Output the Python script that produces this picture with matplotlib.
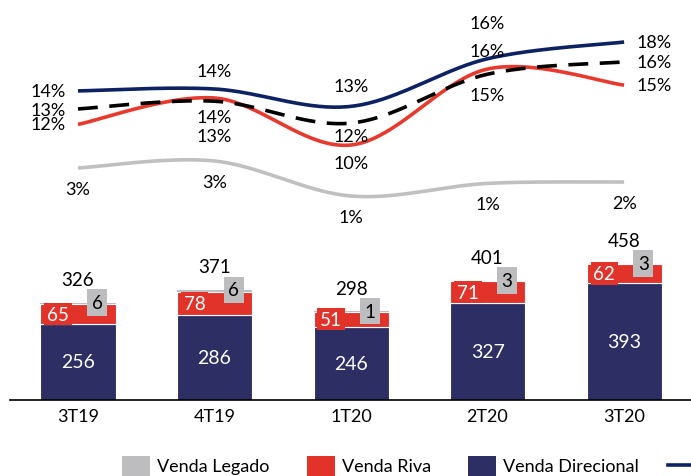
import matplotlib
matplotlib.use("Agg")
import matplotlib.pyplot as plt
from matplotlib.patches import Rectangle
from matplotlib.lines import Line2D
import numpy as np

plt.rcParams['font.family'] = ['Lato', 'DejaVu Sans']

# dados
periodos = ['3T19', '4T19', '1T20', '2T20', '3T20']
direcional = [256, 286, 246, 327, 393]
riva = [65, 78, 51, 71, 62]
legado = [6, 6, 1, 3, 3]
totais = [326, 371, 298, 401, 458]

marg_direcional = [14.2, 14.35, 13.0, 16.7, 18.0]
marg_consolidada = [12.8, 13.4, 11.7, 15.5, 16.45]
marg_riva = [11.6, 13.65, 10.0, 15.9, 14.65]
marg_legado = [2.8, 3.3, 0.8, 1.7, 1.8]

lab_direcional = ['14%', '14%', '13%', '16%', '18%']
lab_consolidada = ['13%', '13%', '12%', '16%', '16%']
lab_riva = ['12%', '14%', '10%', '15%', '15%']
lab_legado = ['3%', '3%', '1%', '1%', '2%']

c_navy_bar = '#2d2f64'
c_red = '#e2332a'
c_gray = '#bdbdbf'
c_navy_line = '#0c2262'
c_gray_line = '#c0c0c0'

W, H = 691, 477
fig = plt.figure(figsize=(W / 100, H / 100), dpi=100)

def fx(px):
    return px / W

def fy(py):
    return 1 - py / H

ax = fig.add_axes([fx(10), fy(401), fx(681), 401 / H])
x = np.arange(len(periodos))
bw = 0.55

ax.bar(x, direcional, bw, color=c_navy_bar, edgecolor='white', linewidth=0.8, zorder=2)
ax.bar(x, riva, bw, bottom=direcional, color=c_red, edgecolor='white', linewidth=0.8, zorder=2)
base_leg = np.array(direcional) + np.array(riva)
ax.bar(x, legado, bw, bottom=base_leg, color=c_gray, edgecolor='none', zorder=2)

ax.set_xlim(-0.498, 4.49)
ax.set_ylim(0, 1346)
for s in ['top', 'right', 'left']:
    ax.spines[s].set_visible(False)
ax.spines['bottom'].set_linewidth(1.2)
ax.set_yticks([])
ax.set_xticks(x)
ax.set_xticklabels(periodos, fontsize=13)
ax.tick_params(axis='x', length=0, pad=6)

for i in range(len(x)):
    ax.text(x[i], direcional[i] / 2, str(direcional[i]), color='white',
            fontsize=14, ha='center', va='center', zorder=4)
    ym = direcional[i] + riva[i] / 2
    ax.text(x[i] - 0.145, ym, str(riva[i]), color='white', fontsize=13.5,
            ha='center', va='center', zorder=4,
            bbox=dict(boxstyle='square,pad=0.15', fc=c_red, ec='none'))
    top = direcional[i] + riva[i] + legado[i]
    ax.text(x[i] + 0.14, top, str(legado[i]), color='black', fontsize=13.5,
            ha='center', va='center', zorder=4,
            bbox=dict(boxstyle='square,pad=0.25', fc=c_gray, ec='none'))
    ax.annotate(str(totais[i]), (x[i], top), xytext=(0, 23), textcoords='offset pixels',
                ha='center', va='center', fontsize=13.5)

def suave(xs, ys, n=40):
    # curva suavizada tipo Excel (bezier com tangentes de Catmull-Rom)
    xs = np.asarray(xs, float)
    ys = np.asarray(ys, float)
    px, py = [], []
    m = len(xs)
    for i in range(m - 1):
        i0 = max(i - 1, 0)
        i3 = min(i + 2, m - 1)
        p0 = np.array([xs[i], ys[i]])
        p3 = np.array([xs[i + 1], ys[i + 1]])
        p1 = p0 + (np.array([xs[i + 1], ys[i + 1]]) - np.array([xs[i0], ys[i0]])) / 6
        p2 = p3 - (np.array([xs[i3], ys[i3]]) - np.array([xs[i], ys[i]])) / 6
        t = np.linspace(0, 1, n)[:, None]
        b = (1 - t) ** 3 * p0 + 3 * (1 - t) ** 2 * t * p1 + 3 * (1 - t) * t ** 2 * p2 + t ** 3 * p3
        px.extend(b[:, 0])
        py.extend(b[:, 1])
    return px, py

ax2 = ax.twinx()
ax2.set_ylim(-9.81, 21.34)
ax2.axis('off')
ax3 = ax.twinx()
ax3.set_ylim(-13.77, 14.87)
ax3.axis('off')

sx, sy = suave(x, marg_legado)
ax3.plot(sx, sy, color=c_gray_line, lw=2.6, solid_capstyle='butt')
sx, sy = suave(x, marg_riva)
ax2.plot(sx, sy, color='#e8392e', lw=2.6, solid_capstyle='butt')
sx, sy = suave(x, marg_consolidada)
ax2.plot(sx, sy, color='black', lw=2.6, dashes=(5.5, 3.2))
sx, sy = suave(x, marg_direcional)
ax2.plot(sx, sy, color=c_navy_line, lw=2.6, solid_capstyle='butt')

fs = 13
# rotulos das margens (deslocamentos em pixels)
off_dir = [(-12, 0, 'right'), (0, 18, 'center'), (0, 20, 'center'), (0, 36, 'center'), (12, 0, 'left')]
off_con = [(-12, -1, 'right'), (0, -35, 'center'), (0, -13, 'center'), (0, 23, 'center'), (12, 0, 'left')]
off_riv = [(-12, 0, 'right'), (0, -19, 'center'), (0, -18, 'center'), (0, -26, 'center'), (12, 0, 'left')]
for i in range(len(x)):
    for vals, labs, offs, a in [(marg_direcional, lab_direcional, off_dir, ax2),
                                (marg_consolidada, lab_consolidada, off_con, ax2),
                                (marg_riva, lab_riva, off_riv, ax2)]:
        dx, dy, ha = offs[i]
        a.annotate(labs[i], (x[i], vals[i]), xytext=(dx, dy), textcoords='offset pixels',
                   ha=ha, va='center', fontsize=fs)
    ax3.annotate(lab_legado[i], (x[i], marg_legado[i]), xytext=(0, -21), textcoords='offset pixels',
                 ha='center', va='center', fontsize=fs)

# legenda
leg = [(122, c_gray, 'Venda Legado'), (307, c_red, 'Venda Riva'), (468, c_navy_bar, 'Venda Direcional')]
for px0, cor, txt in leg:
    fig.add_artist(Rectangle((fx(px0), fy(480)), fx(28), 23 / H, transform=fig.transFigure,
                             facecolor=cor, edgecolor='none'))
    fig.text(fx(px0 + 35), fy(467), txt, fontsize=13, ha='left', va='center')
fig.add_artist(Line2D([fx(668), fx(695)], [fy(466), fy(466)], transform=fig.transFigure,
                      color=c_navy_line, lw=2.6))

fig.savefig('out.png', dpi=100)
